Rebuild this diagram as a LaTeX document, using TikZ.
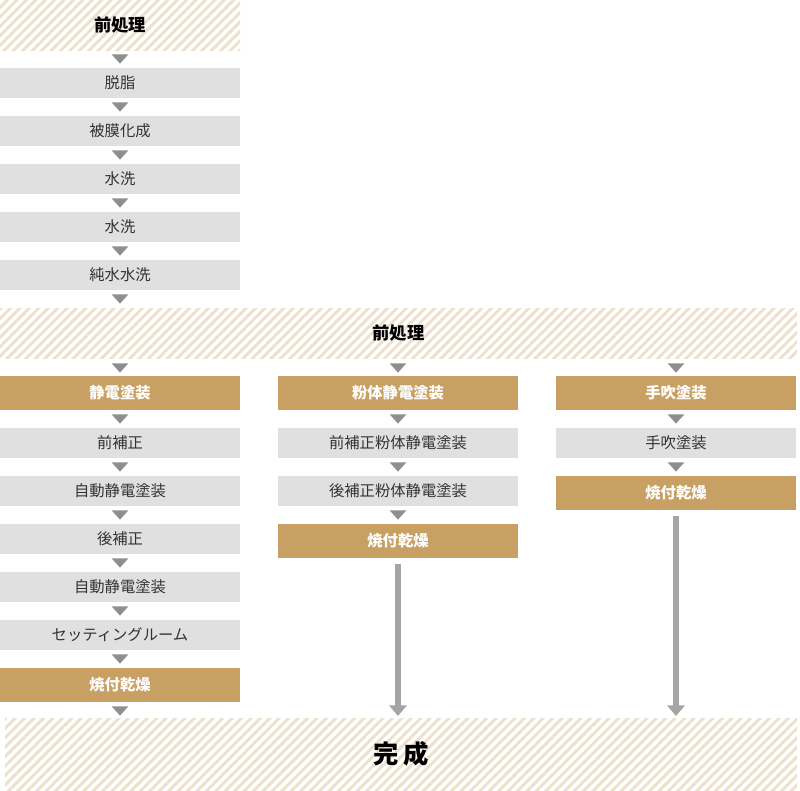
\documentclass[tikz,border=0pt]{standalone}
\usepackage{fontspec}
\setmainfont{Noto Sans CJK JP}
\usetikzlibrary{positioning,shapes.geometric,patterns.meta,arrows.meta}
\definecolor{gold}{HTML}{C9A063}
\definecolor{boxgray}{HTML}{E0E0E0}
\definecolor{trigray}{HTML}{8E8E8E}
\definecolor{hatch}{HTML}{EDE0CC}
\definecolor{txt}{HTML}{333333}
\tikzset{
  procbox/.style={fill=boxgray,minimum width=180pt,minimum height=22.5pt,inner sep=0,text=txt,font=\fontsize{11.5}{13}\selectfont},
  bake/.style={fill=gold,minimum width=180pt,minimum height=25.5pt,inner sep=0,text=white,font=\fontsize{11.5}{13}\selectfont\bfseries},
  hatched/.style={pattern={Lines[angle=45,distance=5pt,line width=2.2pt]},pattern color=hatch,inner sep=0,text=black,font=\fontsize{13}{15}\selectfont\bfseries},
  tri/.style={isosceles triangle,isosceles triangle apex angle=84,shape border rotate=-90,fill=trigray,inner sep=0,minimum height=7pt,minimum width=12pt},
  longarrow/.style={draw=trigray!80,line width=5pt,-{Triangle[width=13pt,length=8pt]}}
}
\begin{document}
\begin{tikzpicture}[x=0.75pt,y=-0.75pt]
  \useasboundingbox (0,0) rectangle (800,790);
  % top pretreatment column
  \node[hatched,minimum width=180pt,minimum height=37.5pt] (pre) at (120,25) {前処理};
  \node[tri] (t0) at (120,58) {};
  \node[procbox] (s1) at (120,83) {脱脂};
  \node[tri] at (120,106) {};
  \node[procbox] (s2) at (120,131) {被膜化成};
  \node[tri] at (120,154) {};
  \node[procbox] (s3) at (120,179) {水洗};
  \node[tri] at (120,202) {};
  \node[procbox] (s4) at (120,227) {水洗};
  \node[tri] at (120,250) {};
  \node[procbox] (s5) at (120,275) {純水水洗};
  \node[tri] at (120,298) {};
  % wide band
  \node[hatched,minimum width=597.75pt,minimum height=37.5pt] (pre2) at (398.5,333) {前処理};
  \foreach \x in {120,398,676}
    \node[tri] at (\x,367) {};
  % column 1
  \node[bake] (a0) at (120,393) {静電塗装};
  \node[tri] at (120,418) {};
  \node[procbox] (a1) at (120,443) {前補正};
  \node[tri] at (120,466) {};
  \node[procbox] (a2) at (120,491) {自動静電塗装};
  \node[tri] at (120,514) {};
  \node[procbox] (a3) at (120,539) {後補正};
  \node[tri] at (120,562) {};
  \node[procbox] (a4) at (120,587) {自動静電塗装};
  \node[tri] at (120,610) {};
  \node[procbox] (a5) at (120,635) {セッティングルーム};
  \node[tri] at (120,658) {};
  \node[bake] (a6) at (120,685) {焼付乾燥};
  \node[tri] at (120,710) {};
  % column 2
  \node[bake] (b0) at (398,393) {粉体静電塗装};
  \node[tri] at (398,418) {};
  \node[procbox] (b1) at (398,443) {前補正粉体静電塗装};
  \node[tri] at (398,466) {};
  \node[procbox] (b2) at (398,491) {後補正粉体静電塗装};
  \node[tri] at (398,514) {};
  \node[bake] (b3) at (398,541) {焼付乾燥};
  % column 3
  \node[bake] (c0) at (676,393) {手吹塗装};
  \node[tri] at (676,418) {};
  \node[procbox] (c1) at (676,443) {手吹塗装};
  \node[tri] at (676,466) {};
  \node[bake] (c2) at (676,493) {焼付乾燥};
  % finish
  \node[hatched,minimum width=594pt,minimum height=54pt,font=\fontsize{19}{22}\selectfont\bfseries] (done) at (401,754) {完\hspace{4pt}成};
  \coordinate (bend) at (398,716);
  \coordinate (cend) at (676,716);
  \draw[longarrow] ([yshift=-4pt]b3.south) -- (bend);
  \draw[longarrow] ([yshift=-4pt]c2.south) -- (cend);
\end{tikzpicture}
\end{document}
